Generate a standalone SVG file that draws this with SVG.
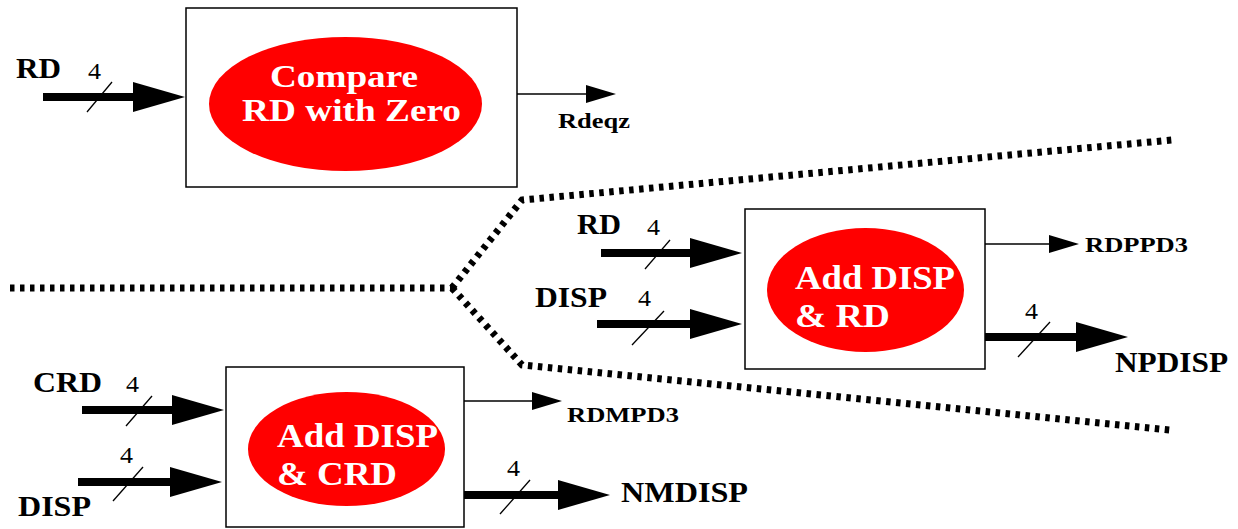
<svg xmlns="http://www.w3.org/2000/svg" width="1238" height="529" viewBox="0 0 1238 529">
<style>
.box{fill:#fff;stroke:#000;stroke-width:1.5}
.ell{fill:#ff0000;stroke:none}
.et{font-family:"Liberation Serif",serif;font-weight:bold;font-size:33px;fill:#fff}
.et.top{font-size:30.5px}
.lb{font-family:"Liberation Serif",serif;font-weight:bold;font-size:30px;fill:#000}
.ls{font-family:"Liberation Serif",serif;font-weight:bold;font-size:22px;fill:#000}
.n{font-family:"Liberation Serif",serif;font-size:24px;fill:#000}
.thick{stroke:#000;stroke-width:8;fill:none;marker-end:url(#big)}
.thin{stroke:#000;stroke-width:1.5;fill:none;marker-end:url(#small)}
.sl{stroke:#000;stroke-width:1.3}
.dash{stroke:#000;stroke-width:7;fill:none;stroke-dasharray:4.5 5.5}
</style>
<defs>
<marker id="big" markerUnits="userSpaceOnUse" markerWidth="52" markerHeight="30" refX="10" refY="15" orient="auto" overflow="visible">
<path d="M0,0 L52,15 L0,30 z" fill="#000"/>
</marker>
<marker id="small" markerUnits="userSpaceOnUse" markerWidth="30" markerHeight="18" refX="5" refY="9" orient="auto" overflow="visible">
<path d="M0,0 L30,9 L0,18 z" fill="#000"/>
</marker>
</defs>

<g id="boundary">
<polyline class="dash" points="10,288 452,288"/>
<polyline class="dash" points="452,288 522,200 1172,140"/>
<polyline class="dash" points="452,288 522,365 1170,430"/>
</g>

<g id="compare">
<rect class="box" x="186" y="8" width="331" height="179"/>
<ellipse class="ell" cx="345.5" cy="104" rx="136.5" ry="67"/>
<text class="et top" x="270" y="87" textLength="148" lengthAdjust="spacingAndGlyphs">Compare</text>
<text class="et top" x="242" y="121" textLength="219" lengthAdjust="spacingAndGlyphs">RD with Zero</text>
</g>

<g id="addrd">
<rect class="box" x="745" y="209" width="240" height="160"/>
<ellipse class="ell" cx="865.5" cy="290" rx="98.5" ry="62"/>
<text class="et" x="795" y="289" textLength="160" lengthAdjust="spacingAndGlyphs">Add DISP</text>
<text class="et" x="795" y="327" textLength="95" lengthAdjust="spacingAndGlyphs">&amp; RD</text>
</g>

<g id="addcrd">
<rect class="box" x="226" y="367" width="238" height="160"/>
<ellipse class="ell" cx="346.5" cy="449" rx="98.5" ry="57"/>
<text class="et" x="277" y="447" textLength="161" lengthAdjust="spacingAndGlyphs">Add DISP</text>
<text class="et" x="277" y="485" textLength="120" lengthAdjust="spacingAndGlyphs">&amp; CRD</text>
</g>

<g id="connectors">
<line class="thick" x1="43" y1="97" x2="143" y2="97"/>
<line class="thick" x1="601" y1="253" x2="700" y2="253"/>
<line class="thick" x1="597" y1="324" x2="700" y2="324"/>
<line class="thick" x1="82" y1="410" x2="182" y2="410"/>
<line class="thick" x1="78" y1="482" x2="180" y2="482"/>
<line class="thick" x1="985" y1="337" x2="1086" y2="337"/>
<line class="thick" x1="464" y1="495" x2="568" y2="495"/>
<line class="thin" x1="517" y1="94" x2="591" y2="94"/>
<line class="thin" x1="985" y1="244" x2="1054" y2="244"/>
<line class="thin" x1="464" y1="401" x2="537" y2="401"/>
<line class="sl" x1="87" y1="112" x2="112" y2="82"/>
<line class="sl" x1="645" y1="269" x2="670" y2="240"/>
<line class="sl" x1="632" y1="345" x2="664" y2="311"/>
<line class="sl" x1="126" y1="426" x2="152" y2="396"/>
<line class="sl" x1="113" y1="501" x2="143" y2="467"/>
<line class="sl" x1="1018" y1="357" x2="1050" y2="322"/>
<line class="sl" x1="500" y1="514" x2="530" y2="480"/>
</g>

<g id="labels">
<text class="lb" x="16" y="78" textLength="45" lengthAdjust="spacingAndGlyphs">RD</text>
<text class="n" x="88" y="79" textLength="13" lengthAdjust="spacingAndGlyphs">4</text>
<text class="ls" x="558" y="128" textLength="72" lengthAdjust="spacingAndGlyphs">Rdeqz</text>
<text class="lb" x="577" y="234" textLength="44" lengthAdjust="spacingAndGlyphs">RD</text>
<text class="n" x="647" y="235" textLength="13" lengthAdjust="spacingAndGlyphs">4</text>
<text class="lb" x="535" y="307" textLength="72" lengthAdjust="spacingAndGlyphs">DISP</text>
<text class="n" x="638" y="306" textLength="13" lengthAdjust="spacingAndGlyphs">4</text>
<text class="ls" x="1085" y="252" textLength="103" lengthAdjust="spacingAndGlyphs">RDPPD3</text>
<text class="n" x="1025" y="319" textLength="13" lengthAdjust="spacingAndGlyphs">4</text>
<text class="lb" x="1115" y="372" textLength="113" lengthAdjust="spacingAndGlyphs">NPDISP</text>
<text class="lb" x="33" y="392" textLength="69" lengthAdjust="spacingAndGlyphs">CRD</text>
<text class="n" x="126" y="392" textLength="13" lengthAdjust="spacingAndGlyphs">4</text>
<text class="n" x="120" y="463" textLength="13" lengthAdjust="spacingAndGlyphs">4</text>
<text class="lb" x="18" y="516" textLength="73" lengthAdjust="spacingAndGlyphs">DISP</text>
<text class="ls" x="567" y="422" textLength="112" lengthAdjust="spacingAndGlyphs">RDMPD3</text>
<text class="n" x="507" y="476" textLength="13" lengthAdjust="spacingAndGlyphs">4</text>
<text class="lb" x="621" y="502" textLength="127" lengthAdjust="spacingAndGlyphs">NMDISP</text>
</g>
</svg>
